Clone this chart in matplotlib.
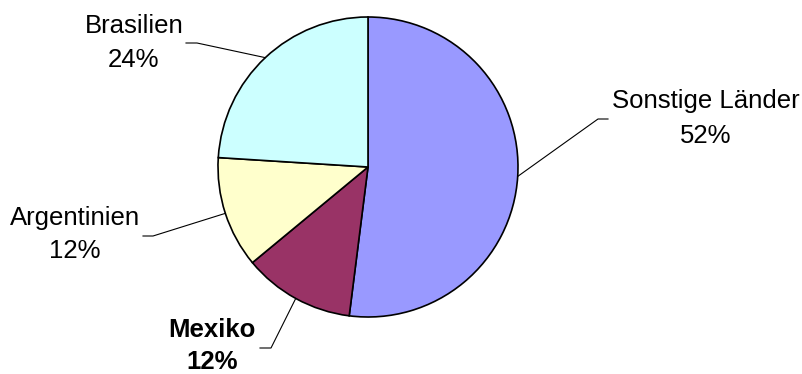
import numpy as np
import matplotlib
matplotlib.use("Agg")
import matplotlib.pyplot as plt

laender = ["Sonstige Länder", "Mexiko", "Argentinien", "Brasilien"]
anteile = [52, 12, 12, 24]
farben = ["#9999FF", "#993366", "#FFFFCC", "#CCFFFF"]
fett = [False, True, False, False]

# Label layout in pixel coords: (text x, baseline name, baseline percent, stub start x, stub end x, stub y)
label_pos = [
    (706, 108, 143, 608, 598, 119),
    (212, 337, 369, 260, 271, 348),
    (75, 225, 258, 143, 153, 236),
    (134, 33, 67, 186, 197, 43),
]

plt.rcParams["font.family"] = ["Liberation Sans", "DejaVu Sans"]

fig = plt.figure(figsize=(8.03, 3.74), dpi=100)
ax = fig.add_axes([0, 0, 1, 1])

mitte = (368, 167)
radius = 150
wedges, _ = ax.pie(anteile, colors=farben, startangle=-90, counterclock=True,
                   center=mitte, radius=radius,
                   wedgeprops=dict(edgecolor="black", linewidth=1.2))

ax.set_xlim(0, 803)
ax.set_ylim(374, 0)
ax.set_aspect("equal")
ax.axis("off")

fs = 18.5
for w, name, wert, bold, pos in zip(wedges, laender, anteile, fett, label_pos):
    tx, yb1, yb2, sx0, sx1, sy = pos
    winkel = np.deg2rad((w.theta1 + w.theta2) / 2)
    px = mitte[0] + radius * np.cos(winkel)
    py = mitte[1] + radius * np.sin(winkel)
    ax.plot([sx0, sx1, px], [sy, sy, py], color="black", linewidth=0.8)
    weight = "bold" if bold else "normal"
    ax.text(tx, yb1, name, ha="center", va="baseline", fontsize=fs, fontweight=weight)
    ax.text(tx, yb2, f"{wert}%", ha="center", va="baseline", fontsize=fs, fontweight=weight)

fig.savefig("out.png", dpi=100)
